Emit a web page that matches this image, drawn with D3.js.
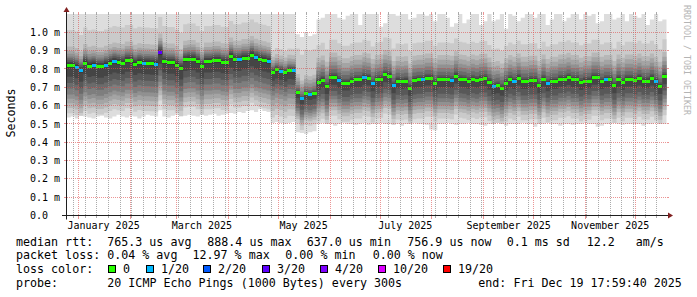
<!DOCTYPE html>
<html>
<head>
<meta charset="utf-8">
<script src="https://cdn.jsdelivr.net/npm/d3@7"></script>
<style>
body { margin: 0; background: #fff; }
svg { display: block; }
text { font-family: "DejaVu Sans Mono", monospace; white-space: pre; }
</style>
</head>
<body>
<div id="chart"></div>
<script>
// smokeping "last 360 days" detail graph
const endTime = new Date(2025, 11, 19, 17, 59, 40);
const spanDays = 360;

// median rtt per 2.5 day step (ms)
const median = [
  0.818, 0.818, 0.809, 0.790, 0.831, 0.816, 0.821, 0.812, 0.812, 0.821,
  0.831, 0.840, 0.835, 0.831, 0.845, 0.845, 0.827, 0.836, 0.831, 0.831,
  0.829, 0.827, 0.888, 0.840, 0.834, 0.834, 0.821, 0.803, 0.849, 0.853,
  0.853, 0.840, 0.812, 0.840, 0.840, 0.845, 0.845, 0.836, 0.834, 0.867,
  0.849, 0.849, 0.858, 0.858, 0.875, 0.860, 0.852, 0.846, 0.840, 0.782,
  0.795, 0.788, 0.778, 0.792, 0.790, 0.672, 0.637, 0.665, 0.660, 0.668,
  0.725, 0.738, 0.703, 0.754, 0.754, 0.736, 0.722, 0.722, 0.734, 0.740,
  0.740, 0.754, 0.749, 0.718, 0.740, 0.743, 0.767, 0.761, 0.707, 0.734,
  0.730, 0.734, 0.694, 0.736, 0.740, 0.740, 0.749, 0.749, 0.722, 0.740,
  0.740, 0.740, 0.736, 0.761, 0.743, 0.740, 0.732, 0.743, 0.737, 0.745,
  0.747, 0.726, 0.702, 0.707, 0.694, 0.722, 0.740, 0.730, 0.749, 0.730,
  0.730, 0.736, 0.736, 0.707, 0.743, 0.718, 0.730, 0.730, 0.743, 0.743,
  0.752, 0.740, 0.740, 0.725, 0.734, 0.734, 0.754, 0.754, 0.730, 0.740,
  0.740, 0.707, 0.743, 0.725, 0.743, 0.743, 0.736, 0.749, 0.734, 0.734,
  0.749, 0.730, 0.703, 0.757
];

// lost pings (of 20) per step
const loss = [
  0,0,1,1,0,0,1,0,0,1,
  0,1,0,0,0,0,0,0,1,0,
  0,1,3,0,0,0,0,0,0,0,
  0,0,0,0,0,0,0,0,0,0,
  0,1,0,0,0,1,0,0,1,0,
  0,1,0,0,1,0,1,0,1,0,
  0,0,0,0,0,1,0,0,0,0,
  0,1,0,1,0,0,0,0,1,0,
  0,0,0,0,0,1,0,0,0,0,
  0,0,1,0,0,0,0,0,0,0,
  0,0,1,0,0,0,0,1,0,0,
  0,0,0,0,0,1,0,0,0,0,
  0,0,0,0,0,0,0,0,0,1,
  0,0,0,0,0,0,0,0,0,0,
  0,1,0,0
];

// slowest ping per step (ms), 1.15 = above the graph
const pingMax = [
  1.15,1.15,1.15,1.15,1.15,1.15,1.15,1.15,1.15,1.15,
  1.15,1.15,1.15,1.15,1.15,1.15,1.15,1.15,1.15,1.15,
  1.15,1.15,1.15,1.15,1.15,1.15,1.15,1.15,1.15,1.15,
  1.15,1.15,1.15,1.15,1.15,1.15,1.15,1.15,1.15,1.15,
  1.15,1.15,1.15,1.15,1.15,1.15,1.15,1.15,1.15,1.15,
  1.15,1.15,1.15,1.15,1.15,0.99,0.975,1.00,0.98,0.99,
  1.07,1.08,1.15,1.15,1.15,1.08,1.07,1.09,1.15,1.15,
  1.04,1.15,1.15,1.15,1.15,1.03,1.05,1.15,1.15,1.09,
  1.15,1.15,1.07,1.08,1.15,1.15,1.09,1.15,1.06,1.15,
  1.15,1.08,1.03,1.05,1.15,1.05,1.07,1.15,1.15,1.04,
  1.06,1.15,1.06,1.07,1.15,1.02,1.15,1.09,1.06,1.08,
  1.15,1.15,1.08,1.15,1.15,1.04,1.07,1.15,1.15,1.06,
  1.08,1.15,1.15,1.07,1.15,1.09,1.15,1.05,1.06,1.15,
  1.15,1.07,1.08,1.15,1.06,1.15,1.09,1.08,1.15,1.04,
  1.07,1.15,1.06,1.07
];

// fastest ping per step (ms)
const pingMin = [
  0.535,0.540,0.530,0.545,0.540,0.535,0.530,0.540,0.545,0.535,
  0.530,0.540,0.550,0.540,0.535,0.545,0.540,0.530,0.540,0.550,
  0.545,0.540,0.575,0.540,0.535,0.545,0.550,0.540,0.545,0.550,
  0.545,0.540,0.550,0.545,0.550,0.555,0.545,0.550,0.555,0.560,
  0.555,0.565,0.560,0.570,0.575,0.565,0.580,0.570,0.565,0.505,
  0.510,0.505,0.500,0.505,0.510,0.455,0.450,0.445,0.455,0.460,
  0.500,0.505,0.500,0.500,0.490,0.500,0.505,0.500,0.500,0.495,
  0.500,0.505,0.495,0.500,0.500,0.505,0.500,0.500,0.495,0.500,
  0.490,0.500,0.500,0.505,0.500,0.500,0.495,0.470,0.465,0.500,
  0.500,0.505,0.500,0.495,0.500,0.500,0.505,0.500,0.500,0.495,
  0.490,0.500,0.500,0.505,0.500,0.490,0.500,0.500,0.500,0.505,
  0.500,0.500,0.485,0.500,0.500,0.505,0.500,0.500,0.490,0.500,
  0.500,0.495,0.500,0.500,0.505,0.500,0.500,0.485,0.490,0.500,
  0.500,0.505,0.500,0.495,0.500,0.500,0.500,0.500,0.490,0.500,
  0.500,0.505,0.500,0.500
];

// ping 2..19 (sorted) relative to the median, per period starting at step
const profileStart = [0, 49, 55, 60];
const profileOffsets = [
  [-0.260,-0.231,-0.205,-0.180,-0.158,-0.125,-0.095,-0.060,-0.010, 0.010, 0.020, 0.030, 0.040, 0.050, 0.065, 0.080, 0.105, 0.195],
  [-0.247,-0.212,-0.182,-0.152,-0.127,-0.102,-0.077,-0.047,-0.008, 0.006, 0.012, 0.020, 0.028, 0.037, 0.050, 0.065, 0.085, 0.120],
  [-0.170,-0.145,-0.130,-0.115,-0.100,-0.085,-0.060,-0.030,-0.005, 0.004, 0.008, 0.015, 0.025, 0.040, 0.060, 0.080, 0.100, 0.240],
  [-0.210,-0.180,-0.160,-0.140,-0.120,-0.100,-0.075,-0.040,-0.005, 0.006, 0.015, 0.025, 0.045, 0.065, 0.085, 0.110, 0.136, 0.205]
];

const yTicks = [0, 0.1, 0.2, 0.3, 0.4, 0.5, 0.6, 0.7, 0.8, 0.9, 1.0];
const yTickLabels = ["0.0", "0.1 m", "0.2 m", "0.3 m", "0.4 m", "0.5 m", "0.6 m", "0.7 m", "0.8 m", "0.9 m", "1.0 m"];
const xTickLabels = ["January 2025", "March 2025", "May 2025", "July 2025", "September 2025", "November 2025"];

const lossThresholds = [0, 1, 2, 3, 4, 10, 19];
const lossLabels = ["0", "1/20", "2/20", "3/20", "4/20", "10/20", "19/20"];
const lossColors = ["#26ff00", "#00b8ff", "#0059ff", "#5e00ff", "#7e00ff", "#dd00ff", "#ff0000"];

const rttLine = ["median rtt:  765.3 us avg", "888.4 us max", "637.0 us min", "756.9 us now", "0.1 ms sd", "12.2   am/s"];
const lossLine = ["packet loss: 0.04 % avg", "12.97 % max", "0.00 % min", "0.00 % now"];
const probeLine = ["probe:", "20 ICMP Echo Pings (1000 Bytes) every 300s", "end: Fri Dec 19 17:59:40 2025"];

// ---------------------------------------------------------------
const W = 697, H = 297;
const svg = d3.select("#chart").append("svg").attr("width", W).attr("height", H);
svg.append("rect").attr("width", W).attr("height", H).attr("fill", "#fff");

const start = d3.timeDay.offset(endTime, -spanDays);
const x = d3.scaleTime().domain([start, endTime]).range([66.5, 666.5]);
const y = d3.scaleLinear().domain([0, 1.1]).range([215.5, 14]);
const stepMs = (endTime - start) / median.length;

const steps = median.map((m, i) => {
  let k = 0;
  profileStart.forEach((s, j) => { if (i >= s) k = j; });
  const lo = pingMin[i], hi = pingMax[i];
  const pings = [lo].concat(profileOffsets[k].map(o => m + o), [hi])
    .map(v => Math.max(lo, Math.min(hi, v)));
  return { t: new Date(+start + i * stepMs), t1: new Date(+start + (i + 1) * stepMs), m, pings, loss: loss[i] };
});
const stepData = steps.concat([Object.assign({}, steps[steps.length - 1], { t: endTime })]);

svg.append("clipPath").attr("id", "plot")
  .append("rect").attr("x", 67).attr("y", 14).attr("width", 600).attr("height", 201.5);

// smoke: 10 nested bands, lighter outside
const smoke = svg.append("g").attr("clip-path", "url(#plot)");
for (let b = 1; b <= 10; b++) {
  const g = Math.floor(190 / 10 * (10 - b)) + 50;
  const area = d3.area()
    .curve(d3.curveStepAfter)
    .x(d => x(d.t))
    .y0(d => y(d.pings[b - 1]))
    .y1(d => y(d.pings[20 - b]));
  smoke.append("path").datum(stepData).attr("d", area).attr("fill", d3.rgb(g, g, g));
}

// median coloured by loss
function lossColor(l) {
  let c = 0;
  lossThresholds.forEach((th, j) => { if (l >= th) c = j; });
  return lossColors[c];
}
smoke.selectAll("rect.med").data(steps).enter().append("rect")
  .attr("class", "med")
  .attr("x", d => Math.round(x(d.t)))
  .attr("width", d => Math.round(x(d.t1)) - Math.round(x(d.t)))
  .attr("y", d => Math.round(y(d.m) - 1.5))
  .attr("height", 3)
  .attr("fill", d => lossColor(d.loss));

// grid (drawn over the graph, as rrdtool does), 1px on / 1px off
const gridCol = "rgba(143,143,143,0.75)", mgridCol = "rgba(222,79,79,0.6)";
const grid = svg.append("g");
const majors = d3.timeMonth.range(start, endTime);
const minors = d3.timeWeek.range(start, endTime).filter(d => !majors.some(m => +m === +d));
const px = d => Math.floor(x(d)) + 0.5;
const py = v => Math.floor(y(v)) + 0.5;

function vgrid(list, col, tickLen) {
  list.forEach(d => {
    grid.append("line").attr("x1", px(d)).attr("x2", px(d)).attr("y1", 14).attr("y2", 215)
      .attr("stroke", col).attr("stroke-dasharray", "1 1");
    grid.append("line").attr("x1", px(d)).attr("x2", px(d)).attr("y1", 12).attr("y2", 14).attr("stroke", col);
    grid.append("line").attr("x1", px(d)).attr("x2", px(d)).attr("y1", 216).attr("y2", 216 + tickLen).attr("stroke", col);
  });
}
vgrid(minors, gridCol, 2);
vgrid(majors, mgridCol, 3);
yTicks.filter(v => v > 0).forEach(v => {
  grid.append("line").attr("x1", 67).attr("x2", 666).attr("y1", py(v)).attr("y2", py(v))
    .attr("stroke", mgridCol).attr("stroke-dasharray", "1 1");
  grid.append("line").attr("x1", 64).attr("x2", 66).attr("y1", py(v)).attr("y2", py(v)).attr("stroke", mgridCol);
  grid.append("line").attr("x1", 667).attr("x2", 669).attr("y1", py(v)).attr("y2", py(v)).attr("stroke", mgridCol);
});

// axes with arrows
const axisG = svg.append("g");
axisG.append("line").attr("x1", 62).attr("x2", 670).attr("y1", 215.5).attr("y2", 215.5)
  .attr("stroke", "#1f1f1f");
axisG.append("line").attr("x1", 66.5).attr("x2", 66.5).attr("y1", 219.5).attr("y2", 10)
  .attr("stroke", "#1f1f1f");
axisG.append("path").attr("d", "M668,212.5L668,218.5L673,215.5Z").attr("fill", "#801f1f");
axisG.append("path").attr("d", "M63.5,12L69.5,12L66.5,7Z").attr("fill", "#801f1f");

// y labels
svg.selectAll("text.ylab").data(yTicks).enter().append("text")
  .attr("class", "ylab")
  .attr("x", 30)
  .attr("y", d => y(d) + 3.6)
  .attr("font-size", "10px")
  .attr("fill", "#000")
  .text((d, i) => yTickLabels[i]);

// x labels, centred half a month after the month start
const parseMonth = d3.timeParse("%B %Y");
svg.selectAll("text.xlab").data(xTickLabels).enter().append("text")
  .attr("class", "xlab")
  .attr("x", d => x(d3.timeDay.offset(parseMonth(d), 15)))
  .attr("y", 228.5)
  .attr("text-anchor", "middle")
  .attr("font-size", "10px")
  .attr("fill", "#000")
  .text(d => d);

// vertical title and watermark
svg.append("text").attr("transform", "translate(15,113) rotate(-90)")
  .attr("text-anchor", "middle").attr("font-size", "11.66px").attr("fill", "#000").text("Seconds");
svg.append("text").attr("transform", "translate(683.5,5) rotate(90)")
  .attr("font-size", "8.3px").attr("fill", "#b4b4b4")
  .attr("textLength", 110).attr("lengthAdjust", "spacingAndGlyphs")
  .text("RRDTOOL / TOBI OETIKER");

// legend
const legend = svg.append("g").attr("font-size", "11.66px").attr("fill", "#000");
const rttX = [16, 207.3, 306.7, 407.3, 506.7, 586.7];
rttLine.forEach((s, i) => legend.append("text").attr("x", rttX[i]).attr("y", 245.5).text(s));
const lossX = [16, 192.5, 285.3, 372.7];
lossLine.forEach((s, i) => legend.append("text").attr("x", lossX[i]).attr("y", 259.2).text(s));
legend.append("text").attr("x", 16).attr("y", 272.9).text("loss color:");
const boxX = [108, 146, 203, 262, 320, 378, 443];
lossLabels.forEach((s, i) => {
  legend.append("rect").attr("x", boxX[i] + 0.5).attr("y", 265.5).attr("width", 7).attr("height", 7)
    .attr("fill", lossColors[i]).attr("stroke", "#000");
  legend.append("text").attr("x", boxX[i] + 15).attr("y", 272.9).text(s);
});
const probeX = [16, 107.3, 478.3];
probeLine.forEach((s, i) => legend.append("text").attr("x", probeX[i]).attr("y", 286.6).text(s));
</script>
</body>
</html>
